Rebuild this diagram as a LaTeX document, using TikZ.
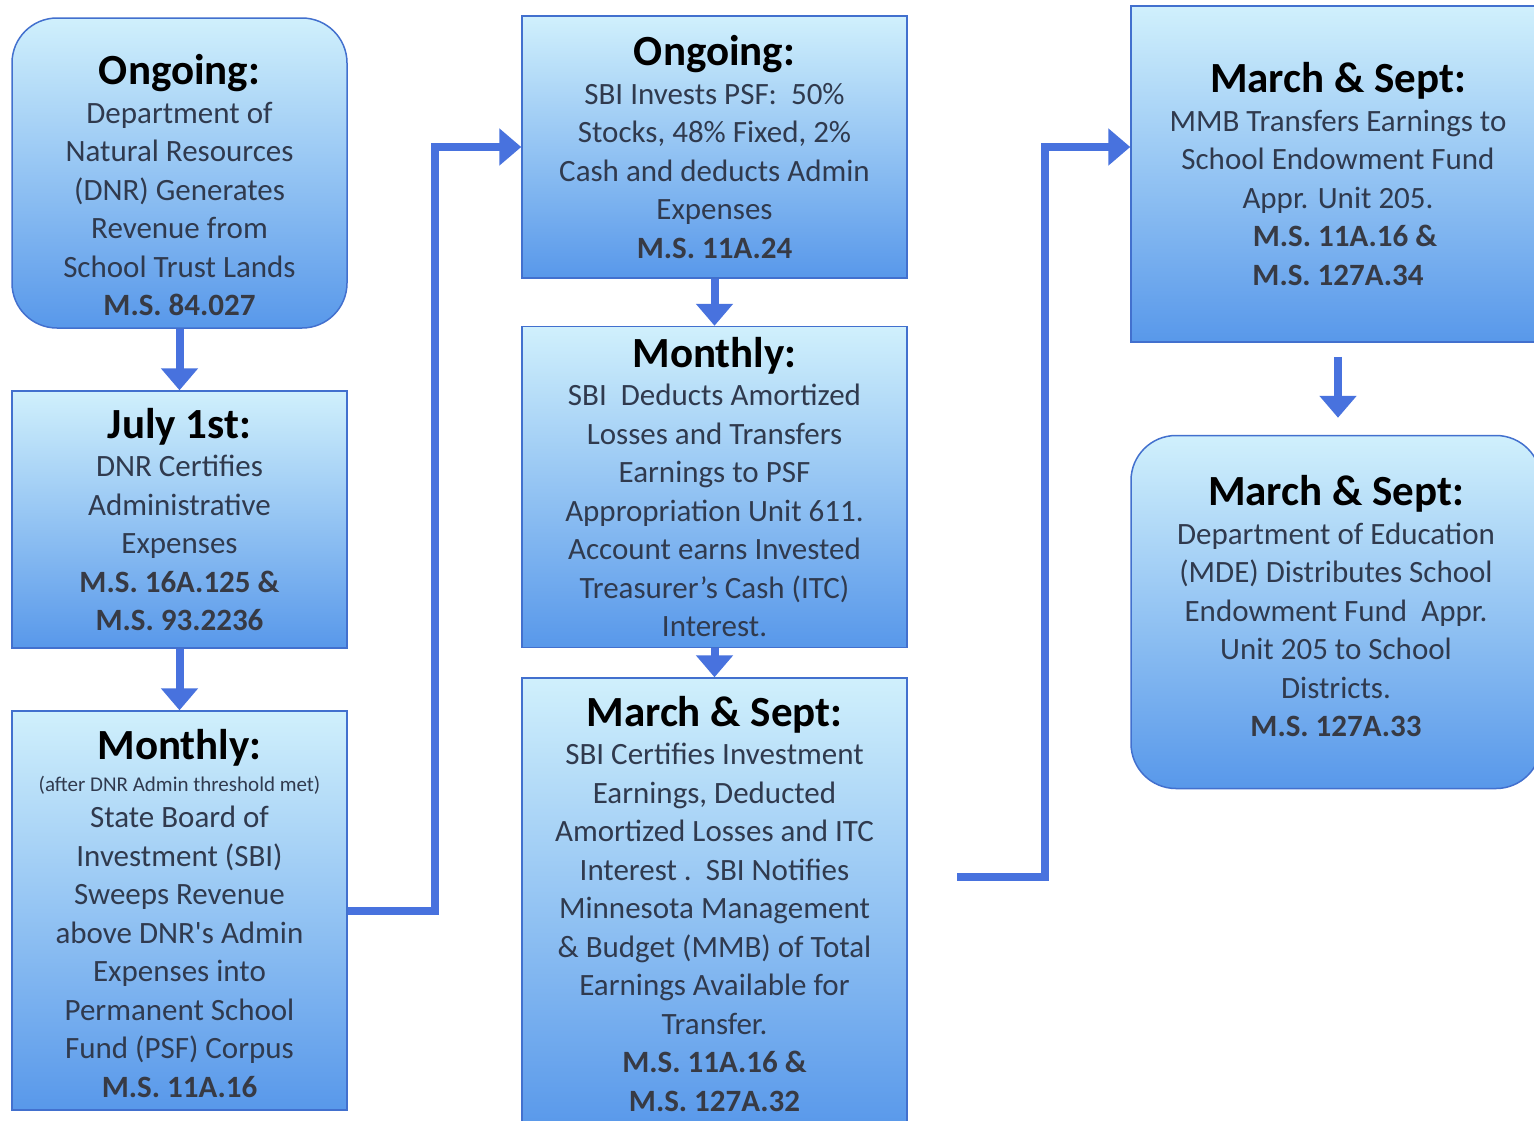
\documentclass[tikz,border=0pt]{standalone}
\usepackage{fontspec}
\setmainfont{Carlito}
\usetikzlibrary{arrows.meta}

\definecolor{boxtop}{RGB}{208,240,252}
\definecolor{boxbottom}{RGB}{88,152,234}
\definecolor{boxline}{RGB}{66,112,206}
\definecolor{flowblue}{RGB}{72,114,222}
\definecolor{bodytext}{RGB}{48,58,78}
\definecolor{reftext}{RGB}{55,58,68}

\newcommand{\hd}[1]{{\fontsize{43}{38.5}\selectfont\bfseries\color{black}#1}}
\newcommand{\ms}[1]{{\bfseries\color{reftext}#1}}
\newcommand{\sm}[1]{{\fontsize{21}{38.5}\selectfont #1}}

\begin{document}
\begin{tikzpicture}[x=1pt, y=-1pt]
    \tikzstyle{every node} = [align=center, font=\fontsize{31}{38.5}\selectfont, text=bodytext]
    \tikzstyle{stage} = [draw=boxline, line width=1.5pt, top color=boxtop, bottom color=boxbottom, inner sep=0pt]
    \tikzstyle{rstage} = [stage, rounded corners=45pt]
    \tikzstyle{flow} = [draw=flowblue, line width=8pt, -{Triangle[width=36pt,length=22pt]}]
    \useasboundingbox (0,0) rectangle (1534,1120);
    \clip (0,0) rectangle (1534,1120);
    \fill[white] (0,0) rectangle (1534,1120);

    \node[rstage, minimum width=335pt, minimum height=310pt] (dnr) at (179.5,173)
        {\hd{\rule{0pt}{55pt}Ongoing:}\\ Department of\\ Natural Resources\\ (DNR) Generates\\ Revenue from\\ School Trust Lands\\ \ms{M.S. 84.027}};
    \node[stage, minimum width=335pt, minimum height=257pt] (certify) at (179.5,519.5)
        {\hd{July 1st:}\\ DNR Certifies\\ Administrative\\ Expenses\\ \ms{M.S. 16A.125 \&}\\ \ms{M.S. 93.2236}};
    \node[stage, minimum width=335pt, minimum height=399pt] (sweep) at (179.5,910.5)
        {\hd{\rule{0pt}{36pt}Monthly:}\\[-7pt] \sm{(after DNR Admin threshold met)}\\[-2pt] State Board of\\ Investment (SBI)\\ Sweeps Revenue\\ above DNR\textquotesingle s Admin\\ Expenses into\\ Permanent School\\ Fund (PSF) Corpus\\ \ms{M.S. 11A.16}};

    \node[stage, minimum width=385pt, minimum height=262pt] (invest) at (714.5,147)
        {\hd{Ongoing:}\\ SBI Invests PSF:\ \ 50\%\\ Stocks, 48\% Fixed, 2\%\\ Cash and deducts Admin\\ Expenses\\ \ms{M.S. 11A.24}};
    \node[stage, minimum width=385pt, minimum height=321pt] (deduct) at (714.5,487)
        {\hd{Monthly:}\\ SBI\ \ Deducts Amortized\\ Losses and Transfers\\ Earnings to PSF\\ Appropriation Unit 611.\\ Account earns Invested\\ Treasurer's Cash (ITC)\\ Interest.};
    \node[stage, minimum width=385pt, minimum height=452pt] (notify) at (714.5,904)
        {\hd{March \& Sept:}\\ SBI Certifies Investment\\ Earnings, Deducted\\ Amortized Losses and ITC\\ Interest .\ \ SBI Notifies\\ Minnesota Management\\ \& Budget (MMB) of Total\\ Earnings Available for\\ Transfer.\\ \ms{M.S. 11A.16 \&}\\ \ms{M.S. 127A.32}};

    \node[stage, minimum width=414pt, minimum height=336pt] (transfer) at (1338,174)
        {\hd{March \& Sept:}\\ MMB Transfers Earnings to\\ School Endowment Fund\\ Appr. Unit 205.\\ \ms{\ \ M.S. 11A.16 \&}\\ \ms{M.S. 127A.34}};
    \node[rstage, minimum width=410pt, minimum height=353pt] (distribute) at (1336,612)
        {\hd{March \& Sept:}\\ Department of Education\\ (MDE) Distributes School\\ Endowment Fund\ \ Appr.\\ Unit 205 to School\\ Districts.\\ \ms{M.S. 127A.33}\rule[-12pt]{0pt}{12pt}};

    \coordinate (out) at (957,877);

    \draw[flow] (dnr) -- (certify);
    \draw[flow] (certify) -- (sweep);
    \draw[flow] (sweep.east) -- ++(87,0) |- (invest.west);
    \draw[flow] (invest) -- (deduct);
    \draw[flow] (deduct) -- (notify);
    \draw[flow] (out) -- ++(88,0) |- (transfer.west |- invest.west);
    \draw[flow, shorten <=14pt, shorten >=17pt] (transfer.south) -- (transfer.south |- distribute.north);
\end{tikzpicture}
\end{document}
